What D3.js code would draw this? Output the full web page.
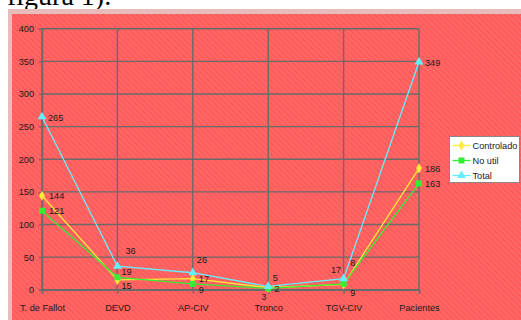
<!DOCTYPE html>
<html><head><meta charset="utf-8">
<script src="https://cdn.jsdelivr.net/npm/d3@7"></script>
<style>html,body{margin:0;padding:0;background:#fff;overflow:hidden}</style>
</head><body>
<svg id="c" width="521" height="320"></svg>
<script>
const categories = ["T. de Fallot","DEVD","AP-CIV","Tronco","TGV-CIV","Pacientes"];
const controlado = [144,15,17,3,8,186];
const noUtil = [121,19,9,2,9,163];
const total = [265,36,26,5,17,349];
const seriesNames = ["Controlado","No util","Total"];
const yTicks = [0,50,100,150,200,250,300,350,400];
// label offsets (dx, dy) relative to point, per series
const labelOffsets = {
  "Controlado": [[7,3.5],[4,9],[6,3],[-7,12.3],[6.6,-18],[6,3.5]],
  "No util":    [[7,3.5],[4,-2],[6,9],[6,3.6],[6.6,12],[6,4]],
  "Total":      [[6,3.8],[8,-12],[4,-9.4],[4.5,-5.4],[-12.7,-6],[6,3.6]]
};
const colors = {"Controlado":"#ffea3a","No util":"#33ee33","Total":"#66eeff"};

const svg = d3.select("#c");
const defs = svg.append("defs");
const pat = defs.append("pattern").attr("id","hatch").attr("patternUnits","userSpaceOnUse")
  .attr("width",4).attr("height",4).attr("patternTransform","rotate(-45)");
pat.append("rect").attr("width",4).attr("height",4).attr("fill","#ff5c5c");
pat.append("rect").attr("width",1).attr("height",4).attr("fill","#ff6f6f");

// title fragment
svg.append("text").attr("x",7).attr("y",5).attr("font-family","Liberation Serif, Times New Roman, serif")
  .attr("font-size",28).attr("fill","#000").text("figura 1).");

// frame
svg.append("rect").attr("x",8).attr("y",9).attr("width",513).attr("height",311).attr("fill","#e9bcbc");
svg.append("rect").attr("x",12).attr("y",14).attr("width",509).attr("height",306).attr("fill","url(#hatch)");

const x = d3.scalePoint().domain(categories).range([42,419]);
const y = d3.scaleLinear().domain([0,400]).range([289.7,28.7]);

const font = "Liberation Sans, Arial, sans-serif";
const grid = "#6a6a6a";
// horizontal grid
svg.append("g").selectAll("line").data(yTicks).join("line")
  .attr("x1",x.range()[0]).attr("x2",x.range()[1])
  .attr("y1",d=>y(d)).attr("y2",d=>y(d)).attr("stroke",grid).attr("stroke-width",1.4);
// vertical grid
svg.append("g").selectAll("line").data(categories).join("line")
  .attr("x1",d=>x(d)).attr("x2",d=>x(d))
  .attr("y1",y(0)).attr("y2",y(400)).attr("stroke",grid).attr("stroke-width",1.4);

// axes
const yAxis = svg.append("g").attr("transform",`translate(${x.range()[0]},0)`)
  .call(d3.axisLeft(y).tickValues(yTicks).tickSize(3).tickPadding(5));
const xAxis = svg.append("g").attr("transform",`translate(0,${y(0)})`)
  .call(d3.axisBottom(x).tickSize(4).tickPadding(11));
[yAxis,xAxis].forEach(a=>{
  a.select(".domain").attr("stroke",grid).attr("stroke-width",1.4);
  a.selectAll(".tick line").attr("stroke",grid).attr("stroke-width",1.4);
  a.selectAll("text").attr("font-family",font).attr("font-size",9.2).attr("fill","#1a1a1a");
});

const data = {"Controlado":controlado,"No util":noUtil,"Total":total};
const line = d3.line().x((d,i)=>x(categories[i])).y(d=>y(d));
const markers = {"Controlado":d3.symbolDiamond,"No util":d3.symbolSquare,"Total":d3.symbolTriangle};
const sizes = {"Controlado":30,"No util":36,"Total":34};

seriesNames.forEach(s=>{
  svg.append("path").datum(data[s]).attr("d",line).attr("fill","none")
    .attr("stroke",colors[s]).attr("stroke-width",1.3);
});
seriesNames.forEach(s=>{
  svg.append("g").selectAll("path").data(data[s]).join("path")
    .attr("transform",(d,i)=>`translate(${x(categories[i])},${y(d)})`)
    .attr("d",d3.symbol().type(markers[s]).size(sizes[s])).attr("fill",colors[s]);
});
seriesNames.forEach(s=>{
  svg.append("g").selectAll("text").data(data[s]).join("text")
    .attr("x",(d,i)=>x(categories[i])+labelOffsets[s][i][0])
    .attr("y",(d,i)=>y(d)+labelOffsets[s][i][1])
    .attr("font-family",font).attr("font-size",9.2).attr("fill","#1a1a1a").text(d=>d);
});

// legend
const lg = svg.append("g").attr("transform","translate(449.5,136.5)");
lg.append("rect").attr("width",70).attr("height",46).attr("fill","#fff").attr("stroke","#888").attr("stroke-width",1);
seriesNames.forEach((s,i)=>{
  const yy = 9 + i*15;
  lg.append("line").attr("x1",3).attr("x2",21).attr("y1",yy).attr("y2",yy).attr("stroke",colors[s]).attr("stroke-width",1.3);
  lg.append("path").attr("transform",`translate(12,${yy})`).attr("d",d3.symbol().type(markers[s]).size(sizes[s])).attr("fill",colors[s]);
  lg.append("text").attr("x",23).attr("y",yy+3.3).attr("font-family",font).attr("font-size",9.2).attr("fill","#1a1a1a").text(s);
});
</script>
</body></html>
